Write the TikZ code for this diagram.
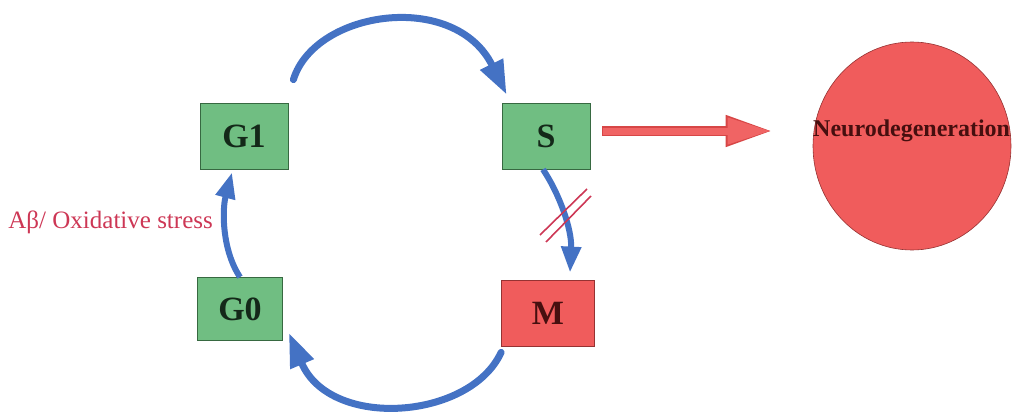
\documentclass[tikz,border=0pt]{standalone}
\usepackage{fontspec}
\setmainfont{Liberation Serif}
\usetikzlibrary{arrows.meta,shapes.geometric}
\definecolor{boxgreen}{RGB}{112,190,130}
\definecolor{boxgreenline}{RGB}{55,105,65}
\definecolor{boxred}{RGB}{240,92,92}
\definecolor{boxredline}{RGB}{150,50,50}
\definecolor{cycleblue}{RGB}{68,114,196}
\definecolor{labelred}{RGB}{205,55,85}
\definecolor{arrowred}{RGB}{240,100,100}
\definecolor{arrowredline}{RGB}{215,70,70}
\definecolor{darktext}{RGB}{20,40,25}
\definecolor{darkred}{RGB}{70,15,15}
\begin{document}
\begin{tikzpicture}[x=1pt,y=-1pt,
  phasebox/.style={draw=boxgreenline, line width=0.8pt, fill=boxgreen, minimum width=88pt, minimum height=66pt, inner sep=0pt,
    font=\fontsize{34}{38}\selectfont\bfseries, text=darktext},
  redbox/.style={phasebox, draw=boxredline, fill=boxred, text=darkred},
  cyclearrow/.style={draw=cycleblue, line width=7pt, -{Triangle[length=34pt,width=24pt]}},
  smallarrow/.style={draw=cycleblue, line width=6pt, -{Triangle[length=26pt,width=19pt]}},
  blockline/.style={draw=labelred, line width=1.6pt}
]
\useasboundingbox (0,0) rectangle (1013,412);

\node[phasebox] (G1) at (244,136) {G1};
\node[phasebox] (S) at (546,136) {S};
\node[phasebox, minimum width=85pt, minimum height=63pt] (G0) at (240,309) {G0};
\node[redbox, minimum width=93pt] (M) at (548,313) {M};

\node[ellipse, draw=boxredline, line width=0.6pt, fill=boxred, minimum width=198pt, minimum height=208pt, inner sep=0pt] (N) at (912,146) {};
\node[anchor=west, inner sep=0pt, font=\fontsize{24}{28}\selectfont\bfseries, text=darkred] (NT) at (813,131) {Neurodegeneration};

\node[anchor=east, inner sep=0pt, font=\fontsize{25}{29}\selectfont, text=labelred] (L) at (213,222) {Aβ/ Oxidative stress};

% top arrow G1 -> S
\draw[cyclearrow, line cap=round] ([shift={(5,-23)}]G1.north east) .. controls (315,10) and (455,-10) .. ([shift={(5,-8)}]S.north west);
% S -> M
\draw[smallarrow] ([shift={(-3,0)}]S.south) .. controls (560,195) and (572,230) .. ([shift={(22,-7)}]M.north);
% M -> G0
\draw[cyclearrow, line cap=round] ([shift={(0,6)}]M.south west) .. controls (470,420) and (330,430) .. ([shift={(6,-8)}]G0.south east);
% G0 -> G1
\draw[smallarrow] (G0.north) .. controls (222,250) and (222,210) .. ([shift={(-12,3)}]G1.south);

% block marks
\draw[blockline] (540,235) -- (587,189);
\draw[blockline] (546,242) -- (591,196);

% S -> Neurodegeneration
\draw[draw=arrowredline, line width=10pt, -{Triangle[length=47pt,width=29pt]}] ([shift={(12,-5)}]S.east) -- ([shift={(-40,-15)}]N.west);
\draw[draw=arrowred, line width=7pt, -{Triangle[length=43pt,width=25pt]}] ([shift={(13,-5)}]S.east) -- ([shift={(-42,-15)}]N.west);
\end{tikzpicture}
\end{document}
